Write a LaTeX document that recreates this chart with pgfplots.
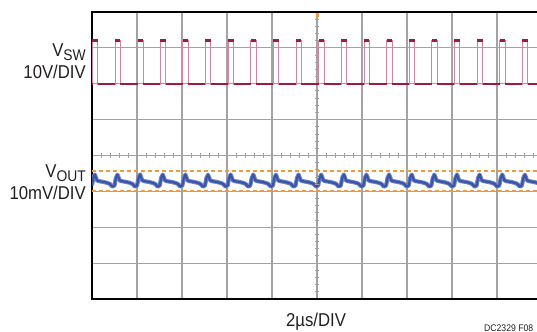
\documentclass[border=0pt]{standalone}
\usepackage{pgfplots}
\pgfplotsset{compat=1.18}
\usepackage{fontspec}
\setmainfont{Liberation Sans}[FakeStretch=0.9]
\definecolor{sw}{HTML}{9E1B3F}
\definecolor{swlight}{HTML}{D9829E}
\definecolor{vout}{HTML}{3A55A8}
\definecolor{voutlight}{HTML}{6F86C4}
\definecolor{orng}{HTML}{F09A3C}
\definecolor{txt}{HTML}{231F20}
\begin{document}
\begin{tikzpicture}
\useasboundingbox (0bp,0bp) rectangle (537bp,332bp);
\begin{axis}[at={(92bp,33bp)}, anchor=south west, width=450bp, height=287bp, scale only axis,
  xmin=0, xmax=10, ymin=-4, ymax=4, xtick={0,...,10}, ytick={-4,...,4},
  xticklabels={}, yticklabels={}, major tick length=0pt,
  grid=major, grid style={color=black!36, line width=1.1bp},
  axis line style={line width=1.4bp, black}, unbounded coords=jump]
% centre-line tick marks
\addplot[only marks, mark=|, mark size=2.4bp, mark options={color=black!36, line width=0.9bp}] coordinates {
(0.2,0)(0.4,0)(0.6,0)(0.8,0)(1.2,0)(1.4,0)(1.6,0)(1.8,0)(2.2,0)(2.4,0)(2.6,0)(2.8,0)
(3.2,0)(3.4,0)(3.6,0)(3.8,0)(4.2,0)(4.4,0)(4.6,0)(4.8,0)(5.2,0)(5.4,0)(5.6,0)(5.8,0)
(6.2,0)(6.4,0)(6.6,0)(6.8,0)(7.2,0)(7.4,0)(7.6,0)(7.8,0)(8.2,0)(8.4,0)(8.6,0)(8.8,0)
(9.2,0)(9.4,0)(9.6,0)(9.8,0)};
\addplot[only marks, mark=-, mark size=2.4bp, mark options={color=black!36, line width=0.9bp}] coordinates {
(5,-3.8)(5,-3.6)(5,-3.4)(5,-3.2)(5,-2.8)(5,-2.6)(5,-2.4)(5,-2.2)(5,-1.8)(5,-1.6)(5,-1.4)(5,-1.2)
(5,-0.8)(5,-0.6)(5,-0.4)(5,-0.2)(5,0.2)(5,0.4)(5,0.6)(5,0.8)(5,1.2)(5,1.4)(5,1.6)(5,1.8)
(5,2.2)(5,2.4)(5,2.6)(5,2.8)(5,3.2)(5,3.4)(5,3.6)(5,3.8)};
% trigger marker
\addplot[only marks, mark=square*, mark size=1.3bp, color=orng] coordinates {(5,3.92)};
% VSW
\addplot[swlight, line width=0.8bp] table[row sep=\\] {x y\\
0 1.99\\ 0.007 1.99\\ 0.007 3.2\\ 0.127 3.2\\ 0.127 1.99\\
0.510 1.99\\ 0.510 3.2\\ 0.630 3.2\\ 0.630 1.99\\
1.013 1.99\\ 1.013 3.2\\ 1.133 3.2\\ 1.133 1.99\\
1.516 1.99\\ 1.516 3.2\\ 1.636 3.2\\ 1.636 1.99\\
2.019 1.99\\ 2.019 3.2\\ 2.139 3.2\\ 2.139 1.99\\
2.522 1.99\\ 2.522 3.2\\ 2.642 3.2\\ 2.642 1.99\\
3.025 1.99\\ 3.025 3.2\\ 3.145 3.2\\ 3.145 1.99\\
3.528 1.99\\ 3.528 3.2\\ 3.648 3.2\\ 3.648 1.99\\
4.031 1.99\\ 4.031 3.2\\ 4.151 3.2\\ 4.151 1.99\\
4.534 1.99\\ 4.534 3.2\\ 4.654 3.2\\ 4.654 1.99\\
5.037 1.99\\ 5.037 3.2\\ 5.157 3.2\\ 5.157 1.99\\
5.540 1.99\\ 5.540 3.2\\ 5.660 3.2\\ 5.660 1.99\\
6.043 1.99\\ 6.043 3.2\\ 6.163 3.2\\ 6.163 1.99\\
6.546 1.99\\ 6.546 3.2\\ 6.666 3.2\\ 6.666 1.99\\
7.049 1.99\\ 7.049 3.2\\ 7.169 3.2\\ 7.169 1.99\\
7.552 1.99\\ 7.552 3.2\\ 7.672 3.2\\ 7.672 1.99\\
8.055 1.99\\ 8.055 3.2\\ 8.175 3.2\\ 8.175 1.99\\
8.558 1.99\\ 8.558 3.2\\ 8.678 3.2\\ 8.678 1.99\\
9.061 1.99\\ 9.061 3.2\\ 9.181 3.2\\ 9.181 1.99\\
9.564 1.99\\ 9.564 3.2\\ 9.684 3.2\\ 9.684 1.99\\
10 1.99\\};
% VSW low level (dark)
\addplot[sw, line width=1.3bp] table[row sep=\\] {x y\\
0 1.99\\ 0.007 1.99\\ 0.05 nan\\
0.127 1.99\\ 0.510 1.99\\ 0.55 nan\\
0.630 1.99\\ 1.013 1.99\\ 1.05 nan\\
1.133 1.99\\ 1.516 1.99\\ 1.55 nan\\
1.636 1.99\\ 2.019 1.99\\ 2.05 nan\\
2.139 1.99\\ 2.522 1.99\\ 2.55 nan\\
2.642 1.99\\ 3.025 1.99\\ 3.05 nan\\
3.145 1.99\\ 3.528 1.99\\ 3.55 nan\\
3.648 1.99\\ 4.031 1.99\\ 4.05 nan\\
4.151 1.99\\ 4.534 1.99\\ 4.55 nan\\
4.654 1.99\\ 5.037 1.99\\ 5.05 nan\\
5.157 1.99\\ 5.540 1.99\\ 5.55 nan\\
5.660 1.99\\ 6.043 1.99\\ 6.05 nan\\
6.163 1.99\\ 6.546 1.99\\ 6.55 nan\\
6.666 1.99\\ 7.049 1.99\\ 7.05 nan\\
7.169 1.99\\ 7.552 1.99\\ 7.55 nan\\
7.672 1.99\\ 8.055 1.99\\ 8.05 nan\\
8.175 1.99\\ 8.558 1.99\\ 8.55 nan\\
8.678 1.99\\ 9.061 1.99\\ 9.05 nan\\
9.181 1.99\\ 9.564 1.99\\ 9.55 nan\\
9.684 1.99\\ 10 1.99\\};
% VSW tops (dark)
\addplot[sw, line width=2.4bp] table[row sep=\\] {x y\\
0.007 3.2\\ 0.127 3.2\\ 0.3 nan\\
0.510 3.2\\ 0.630 3.2\\ 0.8 nan\\
1.013 3.2\\ 1.133 3.2\\ 1.3 nan\\
1.516 3.2\\ 1.636 3.2\\ 1.8 nan\\
2.019 3.2\\ 2.139 3.2\\ 2.3 nan\\
2.522 3.2\\ 2.642 3.2\\ 2.8 nan\\
3.025 3.2\\ 3.145 3.2\\ 3.3 nan\\
3.528 3.2\\ 3.648 3.2\\ 3.8 nan\\
4.031 3.2\\ 4.151 3.2\\ 4.3 nan\\
4.534 3.2\\ 4.654 3.2\\ 4.8 nan\\
5.037 3.2\\ 5.157 3.2\\ 5.3 nan\\
5.540 3.2\\ 5.660 3.2\\ 5.8 nan\\
6.043 3.2\\ 6.163 3.2\\ 6.3 nan\\
6.546 3.2\\ 6.666 3.2\\ 6.8 nan\\
7.049 3.2\\ 7.169 3.2\\ 7.3 nan\\
7.552 3.2\\ 7.672 3.2\\ 7.8 nan\\
8.055 3.2\\ 8.175 3.2\\ 8.3 nan\\
8.558 3.2\\ 8.678 3.2\\ 8.8 nan\\
9.061 3.2\\ 9.181 3.2\\ 9.3 nan\\
9.564 3.2\\ 9.684 3.2\\};
% VOUT data
\pgfplotstableread[row sep=\\]{x y\\
0 -0.83\\ 0.029 -0.623\\ 0.063 -0.531\\ 0.087 -0.610\\ 0.107 -0.685\\ 0.140 -0.712\\ 0.257 -0.737\\ 0.337 -0.762\\ 0.397 -0.792\\ 0.432 -0.840\\
0.454 -0.867\\ 0.499 -0.836\\ 0.532 -0.623\\ 0.566 -0.535\\ 0.590 -0.610\\ 0.610 -0.685\\ 0.643 -0.712\\ 0.760 -0.737\\ 0.840 -0.762\\ 0.900 -0.792\\ 0.935 -0.840\\
0.957 -0.867\\ 1.002 -0.836\\ 1.035 -0.623\\ 1.069 -0.528\\ 1.093 -0.610\\ 1.113 -0.685\\ 1.146 -0.712\\ 1.263 -0.737\\ 1.343 -0.762\\ 1.403 -0.792\\ 1.438 -0.840\\
1.460 -0.867\\ 1.505 -0.836\\ 1.538 -0.623\\ 1.572 -0.533\\ 1.596 -0.610\\ 1.616 -0.685\\ 1.649 -0.712\\ 1.766 -0.737\\ 1.846 -0.762\\ 1.906 -0.792\\ 1.941 -0.840\\
1.963 -0.867\\ 2.008 -0.836\\ 2.041 -0.623\\ 2.075 -0.531\\ 2.099 -0.610\\ 2.119 -0.685\\ 2.152 -0.712\\ 2.269 -0.737\\ 2.349 -0.762\\ 2.409 -0.792\\ 2.444 -0.840\\
2.466 -0.867\\ 2.511 -0.836\\ 2.544 -0.623\\ 2.578 -0.536\\ 2.602 -0.610\\ 2.622 -0.685\\ 2.655 -0.712\\ 2.772 -0.737\\ 2.852 -0.762\\ 2.912 -0.792\\ 2.947 -0.840\\
2.969 -0.867\\ 3.014 -0.836\\ 3.047 -0.623\\ 3.081 -0.529\\ 3.105 -0.610\\ 3.125 -0.685\\ 3.158 -0.712\\ 3.275 -0.737\\ 3.355 -0.762\\ 3.415 -0.792\\ 3.450 -0.840\\
3.472 -0.867\\ 3.517 -0.836\\ 3.550 -0.623\\ 3.584 -0.532\\ 3.608 -0.610\\ 3.628 -0.685\\ 3.661 -0.712\\ 3.778 -0.737\\ 3.858 -0.762\\ 3.918 -0.792\\ 3.953 -0.840\\
3.975 -0.867\\ 4.020 -0.836\\ 4.053 -0.623\\ 4.087 -0.534\\ 4.111 -0.610\\ 4.131 -0.685\\ 4.164 -0.712\\ 4.281 -0.737\\ 4.361 -0.762\\ 4.421 -0.792\\ 4.456 -0.840\\
4.478 -0.867\\ 4.523 -0.836\\ 4.556 -0.623\\ 4.590 -0.530\\ 4.614 -0.610\\ 4.634 -0.685\\ 4.667 -0.712\\ 4.784 -0.737\\ 4.864 -0.762\\ 4.924 -0.792\\ 4.959 -0.840\\
4.981 -0.867\\ 5.026 -0.836\\ 5.059 -0.623\\ 5.093 -0.533\\ 5.117 -0.610\\ 5.137 -0.685\\ 5.170 -0.712\\ 5.287 -0.737\\ 5.367 -0.762\\ 5.427 -0.792\\ 5.462 -0.840\\
5.484 -0.867\\ 5.529 -0.836\\ 5.562 -0.623\\ 5.596 -0.531\\ 5.620 -0.610\\ 5.640 -0.685\\ 5.673 -0.712\\ 5.790 -0.737\\ 5.870 -0.762\\ 5.930 -0.792\\ 5.965 -0.840\\
5.987 -0.867\\ 6.032 -0.836\\ 6.065 -0.623\\ 6.099 -0.535\\ 6.123 -0.610\\ 6.143 -0.685\\ 6.176 -0.712\\ 6.293 -0.737\\ 6.373 -0.762\\ 6.433 -0.792\\ 6.468 -0.840\\
6.490 -0.867\\ 6.535 -0.836\\ 6.568 -0.623\\ 6.602 -0.529\\ 6.626 -0.610\\ 6.646 -0.685\\ 6.679 -0.712\\ 6.796 -0.737\\ 6.876 -0.762\\ 6.936 -0.792\\ 6.971 -0.840\\
6.993 -0.867\\ 7.038 -0.836\\ 7.071 -0.623\\ 7.105 -0.532\\ 7.129 -0.610\\ 7.149 -0.685\\ 7.182 -0.712\\ 7.299 -0.737\\ 7.379 -0.762\\ 7.439 -0.792\\ 7.474 -0.840\\
7.496 -0.867\\ 7.541 -0.836\\ 7.574 -0.623\\ 7.608 -0.534\\ 7.632 -0.610\\ 7.652 -0.685\\ 7.685 -0.712\\ 7.802 -0.737\\ 7.882 -0.762\\ 7.942 -0.792\\ 7.977 -0.840\\
7.999 -0.867\\ 8.044 -0.836\\ 8.077 -0.623\\ 8.111 -0.530\\ 8.135 -0.610\\ 8.155 -0.685\\ 8.188 -0.712\\ 8.305 -0.737\\ 8.385 -0.762\\ 8.445 -0.792\\ 8.480 -0.840\\
8.502 -0.867\\ 8.547 -0.836\\ 8.580 -0.623\\ 8.614 -0.533\\ 8.638 -0.610\\ 8.658 -0.685\\ 8.691 -0.712\\ 8.808 -0.737\\ 8.888 -0.762\\ 8.948 -0.792\\ 8.983 -0.840\\
9.005 -0.867\\ 9.050 -0.836\\ 9.083 -0.623\\ 9.117 -0.531\\ 9.141 -0.610\\ 9.161 -0.685\\ 9.194 -0.712\\ 9.311 -0.737\\ 9.391 -0.762\\ 9.451 -0.792\\ 9.486 -0.840\\
9.508 -0.867\\ 9.553 -0.836\\ 9.586 -0.623\\ 9.620 -0.535\\ 9.644 -0.610\\ 9.664 -0.685\\ 9.697 -0.712\\ 9.814 -0.737\\ 9.894 -0.762\\ 9.954 -0.792\\ 9.989 -0.840\\
10 -0.86\\}\voutdata
\addplot[voutlight, line width=4.2bp, line join=round] table {\voutdata};
\addplot[vout, line width=2.2bp, line join=round] table {\voutdata};
% cursors (on top)
\addplot[orng, line width=1.6bp, dash pattern=on 4bp off 3bp] coordinates {(0,-0.43)(10,-0.43)};
\addplot[orng, line width=1.6bp, dash pattern=on 4bp off 3bp] coordinates {(0,-0.99)(10,-0.99)};
\end{axis}
\begin{scope}[every node/.style={inner sep=0pt, text=txt}]
\node[anchor=base east] at (86bp,275bp) {\fontsize{18.6bp}{20bp}\selectfont V\raisebox{-4bp}{\fontsize{15.4bp}{16bp}\selectfont SW}};
\node[anchor=base east] at (86bp,253bp) {\fontsize{18.6bp}{20bp}\selectfont 10V/DIV};
\node[anchor=base east] at (86bp,154bp) {\fontsize{18.6bp}{20bp}\selectfont V\raisebox{-4bp}{\fontsize{15.4bp}{16bp}\selectfont OUT}};
\node[anchor=base east] at (86bp,132bp) {\fontsize{18.6bp}{20bp}\selectfont 10mV/DIV};
\node[anchor=base] at (316bp,6bp) {\fontsize{18.6bp}{20bp}\selectfont 2µs/DIV};
\node[anchor=base west] at (484bp,1bp) {\fontsize{9.6bp}{10bp}\selectfont DC2329 F08};
\end{scope}
\end{tikzpicture}
\end{document}
